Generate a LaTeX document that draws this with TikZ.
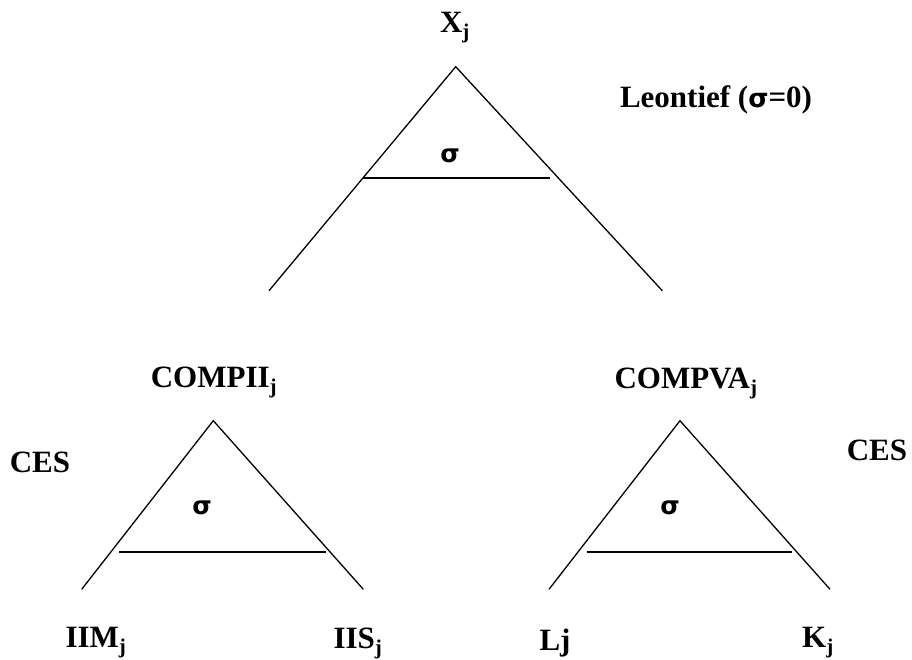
\documentclass[tikz,border=0pt]{standalone}
\usepackage{fontspec}
\setmainfont{Liberation Serif}
\newfontfamily\sigfont{DejaVu Sans}
\begin{document}
\begin{tikzpicture}[x=1pt,y=-1pt,
  lbl/.style={font=\bfseries\fontsize{31}{34}\selectfont, inner sep=0pt},
  sig/.style={font=\sigfont\bfseries\fontsize{25}{28}\selectfont, inner sep=0pt},
  edge/.style={line width=1.3pt},
  bar/.style={line width=1.6pt}]
\useasboundingbox (0,0) rectangle (912,660);
\newcommand{\sbj}{\textsubscript{\fontsize{21}{22}\selectfont j}}
\newcommand{\sg}{{\sigfont\bfseries\fontsize{26}{28}\selectfont σ}}
% top triangle
\coordinate (tA) at (455.7,66.7);
\coordinate (tL) at (269,290.7);
\coordinate (tR) at (662.3,290.7);
\coordinate (tb1) at (362.7,178.3);
\coordinate (tb2) at (550,178.3);
\draw[edge] (tL) -- (tA) -- (tR);
\draw[bar] (tb1) -- (tb2);
\node[sig] (ts) at (450,156) {σ};
\node[lbl] (X) at (455,28) {X\sbj};
\node[lbl] (leon) at (716,100) {Leontief (\sg=0)};
% left triangle
\coordinate (lA) at (213.3,420.7);
\coordinate (lL) at (81.7,589.3);
\coordinate (lR) at (363.3,589.3);
\coordinate (lb1) at (119.3,551.7);
\coordinate (lb2) at (325.7,551.7);
\draw[edge] (lL) -- (lA) -- (lR);
\draw[bar] (lb1) -- (lb2);
\node[sig] (ls) at (202,508) {σ};
\node[lbl] (cII) at (214,382) {COMPII\sbj};
\node[lbl] (cesl) at (40,462) {CES};
\node[lbl] (iim) at (96,643) {IIM\sbj};
\node[lbl] (iis) at (358,643) {IIS\sbj};
% right triangle
\coordinate (rA) at (680,420.7);
\coordinate (rL) at (549,589.3);
\coordinate (rR) at (830,589.3);
\coordinate (rb1) at (586.7,551.7);
\coordinate (rb2) at (792.3,551.7);
\draw[edge] (rL) -- (rA) -- (rR);
\draw[bar] (rb1) -- (rb2);
\node[sig] (rs) at (670,508) {σ};
\node[lbl] (cVA) at (686,383) {COMPVA\sbj};
\node[lbl] (cesr) at (877,450) {CES};
\node[lbl] (lj) at (555,643) {Lj};
\node[lbl] (kj) at (818,643) {K\sbj};
\end{tikzpicture}
\end{document}
